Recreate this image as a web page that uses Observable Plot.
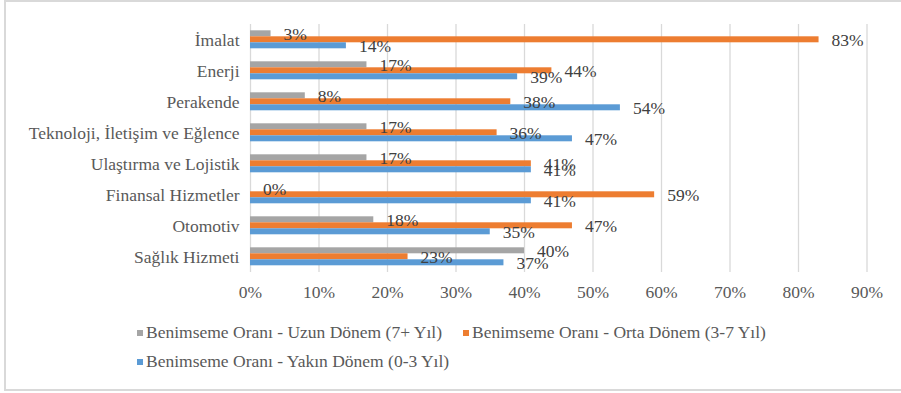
<!DOCTYPE html>
<html>
<head>
<meta charset="utf-8">
<script src="https://cdn.jsdelivr.net/npm/d3@7"></script>
<script src="https://cdn.jsdelivr.net/npm/@observablehq/plot@0.6"></script>
<style>
  html, body { margin: 0; padding: 0; background: #fff; overflow: hidden; }
  #wrap { position: relative; width: 901px; height: 393px; font-family: "Liberation Serif", "Times New Roman", serif; }
  #frame { position: absolute; left: 4px; top: 0px; width: 920px; height: 391px; box-sizing: border-box; border: 2px solid #d9d9d9; pointer-events: none; }
  #chart { position: absolute; left: 0; top: 0; }
  #legend { position: absolute; left: 137px; top: 318px; width: 660px; display: flex; flex-wrap: wrap; font-size: 17.5px; color: #595959; line-height: 29px; }
  .item { display: inline-flex; align-items: center; margin-right: 21px; white-space: nowrap; }
  .sw { width: 6px; height: 6px; margin-right: 3px; display: inline-block; }
</style>
</head>
<body>
<div id="wrap">
  <div id="chart"></div>
  <div id="legend"></div>
  <div id="frame"></div>
</div>
<script>
const categories = ["İmalat", "Enerji", "Perakende", "Teknoloji, İletişim ve Eğlence", "Ulaştırma ve Lojistik", "Finansal Hizmetler", "Otomotiv", "Sağlık Hizmeti"];
const seriesNames = ["Benimseme Oranı - Uzun Dönem (7+ Yıl)", "Benimseme Oranı - Orta Dönem (3-7 Yıl)", "Benimseme Oranı - Yakın Dönem (0-3 Yıl)"];
const uzunDonem = [3, 17, 8, 17, 17, 0, 18, 40];
const ortaDonem = [83, 44, 38, 36, 41, 59, 47, 23];
const yakinDonem = [14, 39, 54, 47, 41, 41, 35, 37];
const xTicks = [0, 10, 20, 30, 40, 50, 60, 70, 80, 90];
const colors = ["#A5A5A5", "#ED7D31", "#5B9BD5"];

const seriesValues = [uzunDonem, ortaDonem, yakinDonem];
const rows = categories.flatMap((c, i) => seriesNames.map((s, j) => ({cat: c, series: s, value: seriesValues[j][i]})));

const chart = Plot.plot({
  width: 901,
  height: 310,
  marginLeft: 250,
  marginRight: 34.5,
  marginTop: 21.7,
  marginBottom: 35.2,
  style: {fontFamily: "'Liberation Serif', 'Times New Roman', serif", fontSize: "17.5px", color: "#595959", background: "transparent"},
  facet: {data: rows, y: "cat"},
  fy: {domain: categories, padding: 0, label: null, axis: "left", tickSize: 0, tickPadding: 11},
  y: {domain: seriesNames, axis: null, paddingInner: 0, paddingOuter: 0.92},
  x: {domain: [0, 90], ticks: xTicks, tickFormat: d => d + "%", tickSize: 0, tickPadding: 13.5, label: null},
  color: {domain: seriesNames, range: colors},
  marks: [
    Plot.ruleX(xTicks, {stroke: "#d9d9d9", strokeWidth: 1.3}),
    Plot.barX(rows, {x: "value", y: "series", fill: "series"}),
    Plot.text(rows, {x: "value", y: "series", text: d => d.value + "%", dx: 12.5, dy: 1, textAnchor: "start", fill: "#404040", fontSize: 17.5})
  ]
});
document.getElementById("chart").appendChild(chart);

const legend = document.getElementById("legend");
seriesNames.forEach((s, j) => {
  const it = document.createElement("span");
  it.className = "item";
  const sw = document.createElement("span");
  sw.className = "sw";
  sw.style.background = colors[j];
  it.appendChild(sw);
  it.appendChild(document.createTextNode(s));
  legend.appendChild(it);
});
</script>
</body>
</html>
